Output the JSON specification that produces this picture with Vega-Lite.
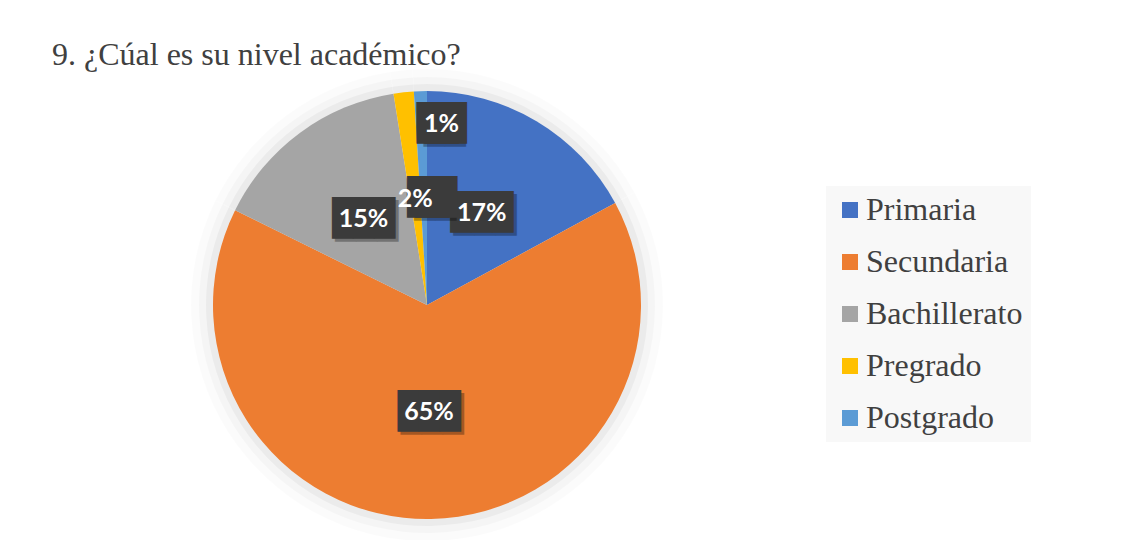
{
  "$schema": "https://vega.github.io/schema/vega-lite/v6.json",
  "width": 854,
  "height": 470,
  "autosize": {"type": "none"},
  "padding": {"left": 0, "top": 70, "right": 283, "bottom": 0},
  "background": "white",
  "title": {
    "text": "9. ¿Cúal es su nivel académico?",
    "anchor": "start",
    "frame": "group",
    "font": "Liberation Serif",
    "fontSize": 32,
    "fontWeight": "normal",
    "color": "#404040",
    "baseline": "alphabetic",
    "offset": -28,
    "dx": 52
  },
  "data": {
    "values": [
      {"nivel": "Primaria", "orden": 1, "share": 0.171},
      {"nivel": "Secundaria", "orden": 2, "share": 0.652},
      {"nivel": "Bachillerato", "orden": 3, "share": 0.152},
      {"nivel": "Pregrado", "orden": 4, "share": 0.0152},
      {"nivel": "Postgrado", "orden": 5, "share": 0.0098}
    ]
  },
  "encoding": {
    "theta": {"field": "share", "type": "quantitative", "stack": true},
    "order": {"field": "orden", "type": "quantitative"}
  },
  "layer": [
    {"mark": {"type": "arc", "radius": 236, "fill": "#000000", "opacity": 0.015}},
    {"mark": {"type": "arc", "radius": 228, "fill": "#000000", "opacity": 0.025}},
    {"mark": {"type": "arc", "radius": 221, "fill": "#000000", "opacity": 0.04}},
    {
      "mark": {"type": "arc", "radius": 214},
      "encoding": {
        "color": {
          "field": "nivel",
          "type": "nominal",
          "scale": {
            "domain": ["Primaria", "Secundaria", "Bachillerato", "Pregrado", "Postgrado"],
            "range": ["#4472c4", "#ed7d31", "#a5a5a5", "#ffc000", "#5b9bd5"]
          },
          "legend": {
            "title": null,
            "orient": "none",
            "legendX": 826,
            "legendY": 116,
            "fillColor": "#f8f8f8",
            "padding": 8,
            "symbolType": "square",
            "symbolSize": 256,
            "symbolStrokeWidth": 0,
            "labelFont": "Liberation Serif",
            "labelFontSize": 32,
            "labelColor": "#404040",
            "labelOffset": 0,
            "rowPadding": 20
          }
        }
      }
    },
    {
      "transform": [{"filter": "datum.share >= 0.1"}],
      "mark": {"type": "text", "radius": 107, "text": "███", "font": "DejaVu Sans Mono", "fontSize": 35, "baseline": "middle", "align": "center", "color": "#000000", "opacity": 0.3, "dx": 3, "dy": 3}
    },
    {
      "transform": [{"filter": "datum.share >= 0.1"}],
      "mark": {"type": "text", "radius": 107, "text": "███", "font": "DejaVu Sans Mono", "fontSize": 35, "baseline": "middle", "align": "center", "color": "#3b3b3b"}
    },
    {
      "transform": [{"filter": "datum.nivel === 'Pregrado'"}],
      "mark": {"type": "text", "radius": 107, "text": "██", "font": "DejaVu Sans Mono", "fontSize": 35, "baseline": "middle", "align": "center", "color": "#000000", "opacity": 0.3, "dx": 3, "dy": 3}
    },
    {
      "transform": [{"filter": "datum.nivel === 'Pregrado'"}],
      "mark": {"type": "text", "radius": 107, "text": "██", "font": "DejaVu Sans Mono", "fontSize": 35, "baseline": "middle", "align": "center", "color": "#3b3b3b", "dx": -4}
    },
    {
      "transform": [{"filter": "datum.nivel === 'Pregrado'"}],
      "mark": {"type": "text", "radius": 107, "text": "██", "font": "DejaVu Sans Mono", "fontSize": 35, "baseline": "middle", "align": "center", "color": "#3b3b3b", "dx": 4}
    },
    {
      "transform": [{"filter": "datum.nivel === 'Postgrado'"}],
      "mark": {"type": "text", "radius": 181, "text": "██", "font": "DejaVu Sans Mono", "fontSize": 35, "baseline": "middle", "align": "center", "color": "#000000", "opacity": 0.3, "dx": 12, "dy": 3}
    },
    {
      "transform": [{"filter": "datum.nivel === 'Postgrado'"}],
      "mark": {"type": "text", "radius": 181, "text": "██", "font": "DejaVu Sans Mono", "fontSize": 35, "baseline": "middle", "align": "center", "color": "#3b3b3b", "dx": 5}
    },
    {
      "transform": [{"filter": "datum.nivel === 'Postgrado'"}],
      "mark": {"type": "text", "radius": 181, "text": "██", "font": "DejaVu Sans Mono", "fontSize": 35, "baseline": "middle", "align": "center", "color": "#3b3b3b", "dx": 13}
    },
    {
      "transform": [{"filter": "datum.nivel !== 'Postgrado'"}],
      "mark": {"type": "text", "radius": 107, "font": "Lato", "fontSize": 25, "fontWeight": "bold", "baseline": "middle", "align": "center", "color": "#ffffff"},
      "encoding": {"text": {"field": "share", "type": "quantitative", "format": ".0%"}}
    },
    {
      "transform": [{"filter": "datum.nivel === 'Postgrado'"}],
      "mark": {"type": "text", "radius": 181, "font": "Lato", "fontSize": 25, "fontWeight": "bold", "baseline": "middle", "align": "center", "color": "#ffffff", "dx": 9},
      "encoding": {"text": {"field": "share", "type": "quantitative", "format": ".0%"}}
    }
  ],
  "config": {"view": {"stroke": null}}
}
